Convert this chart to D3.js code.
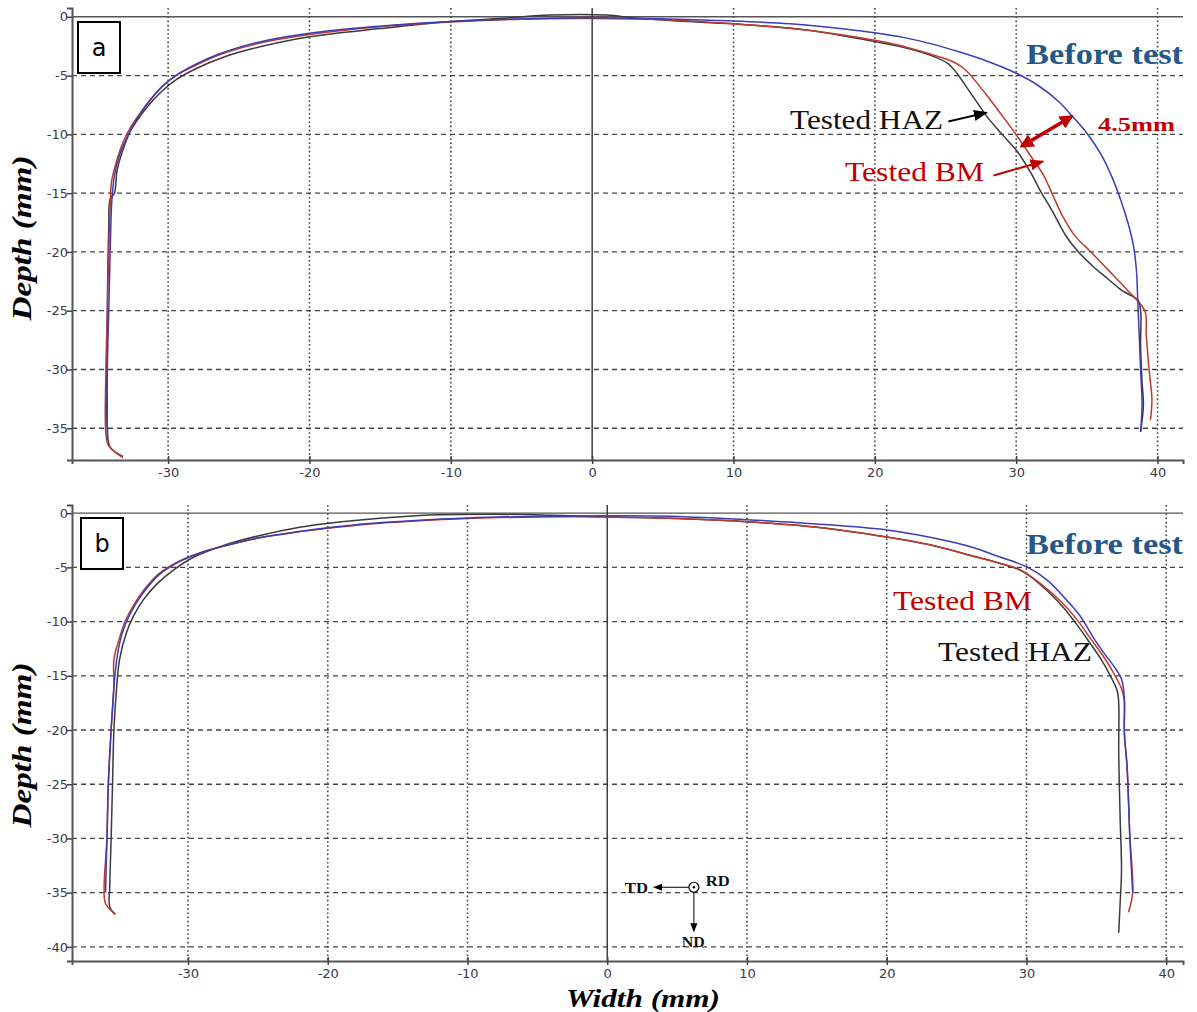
<!DOCTYPE html>
<html><head><meta charset="utf-8">
<script src="https://cdn.jsdelivr.net/npm/d3@7"></script>
<style>body{margin:0;background:#fff}svg{display:block}</style>
</head><body>
<svg id="c" width="1197" height="1012"></svg>
<script>
// ---------- data ----------
const xTicks = [-30,-20,-10,0,10,20,30,40];
const yTicksA = [0,-5,-10,-15,-20,-25,-30,-35];
const yTicksB = [0,-5,-10,-15,-20,-25,-30,-35,-40];
const seriesNames = ["Before test","Tested BM","Tested HAZ"];

const beforeA = [[-34.3,-36.0],[-34.3,-30],[-34.2,-25],[-34.1,-20],[-34.0,-16],[-33.9,-14.5],[-33.8,-13.5],[-33.5,-12],[-33.0,-10.5],[-32.6,-9.5],[-32.0,-8.3],[-31.2,-7.0],[-30.3,-5.8],[-29.2,-4.8],[-28,-4.0],[-26.5,-3.2],[-25,-2.6],[-23,-2.0],[-20,-1.4],[-17,-1.0],[-14,-0.7],[-10,-0.4],[-6,-0.2],[-2,-0.1],[2,-0.1],[6,-0.2],[10,-0.35],[14,-0.6],[18,-1.05],[20,-1.35],[22,-1.75],[24,-2.3],[26,-3.0],[28,-3.8],[30,-4.8],[31.5,-5.8],[33,-7.2],[34,-8.5],[35,-9.9],[36,-11.7],[36.8,-13.7],[37.4,-15.6],[37.9,-17.5],[38.3,-19.5],[38.5,-21.5],[38.6,-24.1],[38.7,-27],[38.8,-30],[38.9,-33],[38.8,-35.3]];
const bmA = [[-33.2,-37.5],[-34.2,-36.5],[-34.4,-35.5],[-34.4,-30],[-34.3,-25],[-34.2,-20],[-34.1,-16],[-34.0,-14],[-33.7,-12.5],[-33.2,-10.7],[-32.7,-9.5],[-32.1,-8.4],[-31.3,-7.1],[-30.4,-5.9],[-29.3,-4.9],[-28,-4.1],[-26.5,-3.3],[-25,-2.7],[-23,-2.1],[-20,-1.5],[-15,-0.85],[-10,-0.45],[-5,-0.2],[0,-0.15],[5,-0.25],[10,-0.6],[15,-1.1],[20,-2.0],[22,-2.5],[24,-3.2],[25.5,-3.8],[26.3,-4.4],[27,-5.3],[28,-6.8],[29,-8.4],[30.1,-10.2],[31,-11.8],[31.9,-13.4],[32.6,-15.2],[33.3,-17.0],[34.2,-18.7],[35.2,-19.9],[36.4,-21.4],[37.9,-23.3],[39.1,-25],[39.2,-27],[39.4,-30],[39.6,-32.5],[39.5,-34.3]];
const hazA = [[-33.2,-37.4],[-34.1,-36.6],[-34.3,-35],[-34.3,-25],[-34.2,-18],[-34.1,-15.5],[-33.8,-15],[-33.6,-13],[-33.1,-11],[-32.7,-9.8],[-32.3,-9.0],[-31.5,-7.7],[-30.5,-6.4],[-29.5,-5.4],[-28,-4.4],[-26,-3.4],[-24,-2.7],[-20,-1.7],[-15,-1.0],[-10,-0.4],[-6,-0.1],[-3,0.15],[1,0.15],[3,-0.1],[6,-0.35],[10,-0.6],[15,-1.1],[20,-2.1],[22,-2.6],[24,-3.3],[25.2,-4.0],[25.8,-4.8],[26.5,-6.0],[27.3,-7.4],[28.0,-8.6],[29.0,-10.0],[30.1,-11.5],[31.0,-13.2],[31.8,-15.0],[32.5,-16.4],[33.5,-18.6],[34.4,-20.0],[35.5,-21.3],[36.5,-22.3],[37.5,-23.3],[38.6,-24.1],[38.8,-25],[38.8,-28],[38.9,-31],[39.0,-33],[38.8,-35.3]];

const beforeB = [[-35.9,-35.0],[-35.8,-30],[-35.7,-25],[-35.5,-20],[-35.3,-16],[-35.1,-13.5],[-34.8,-11.5],[-34.4,-10],[-33.8,-8.5],[-33.0,-7.0],[-32.0,-5.6],[-30.5,-4.4],[-29,-3.6],[-27,-2.9],[-25,-2.3],[-22,-1.7],[-20,-1.35],[-17,-0.95],[-14,-0.7],[-10,-0.45],[-5,-0.3],[0,-0.25],[5,-0.3],[10,-0.6],[15,-1.0],[20,-1.55],[23,-2.2],[26,-3.1],[28,-4.0],[30.1,-5.0],[31.5,-6.2],[33.0,-8.2],[33.9,-9.6],[34.8,-11.5],[35.6,-13.0],[36.3,-14.2],[36.8,-15.3],[37.0,-17],[37.0,-20],[37.2,-23.5],[37.4,-30],[37.6,-35]];
const bmB = [[-35.2,-37.0],[-35.9,-36.0],[-36.0,-34.5],[-35.8,-30],[-35.7,-25],[-35.5,-20],[-35.3,-16],[-35.3,-13.5],[-34.9,-11.5],[-34.5,-10],[-33.9,-8.5],[-33.1,-7.0],[-32.1,-5.6],[-30.6,-4.4],[-29,-3.6],[-27,-2.9],[-25,-2.3],[-22,-1.7],[-20,-1.4],[-17,-1.0],[-14,-0.75],[-10,-0.5],[-5,-0.35],[0,-0.35],[5,-0.5],[10,-0.8],[15,-1.3],[20,-2.2],[23,-2.9],[26,-3.9],[28,-4.6],[29.6,-5.25],[31,-6.5],[32.5,-8.2],[33.6,-9.8],[34.6,-11.6],[35.5,-13.2],[36.3,-14.9],[36.8,-16.2],[37.0,-17.3],[37.0,-20.3],[37.2,-23.4],[37.4,-29.9],[37.6,-35],[37.3,-36.8]];
const hazB = [[-35.2,-37.0],[-35.6,-36.3],[-35.6,-34.5],[-35.5,-30],[-35.4,-25],[-35.3,-20],[-35.1,-16],[-34.9,-13.5],[-34.4,-11],[-33.9,-9.5],[-33.2,-8],[-32.2,-6.5],[-31,-5.2],[-29.5,-4.0],[-27.5,-3.0],[-25,-2.1],[-22,-1.3],[-19,-0.8],[-15,-0.35],[-12,-0.15],[-8,-0.1],[-4,-0.2],[0,-0.35],[5,-0.5],[10,-0.8],[15,-1.3],[20,-2.2],[23,-2.9],[26,-3.9],[29.6,-5.3],[31,-6.6],[32.5,-8.5],[33.5,-10.1],[34.5,-11.9],[35.3,-13.4],[36.0,-15.0],[36.5,-16.4],[36.6,-17.5],[36.6,-22],[36.7,-28],[36.8,-33],[36.7,-36],[36.6,-38.7]];

// ---------- drawing ----------
const svg = d3.select("#c");
const colors = {"Before test":"#3c3cb4","Tested BM":"#c0392f","Tested HAZ":"#3a3a3a"};
const serif = "'Liberation Serif', 'DejaVu Serif', serif";

svg.append("defs").html(`
<marker id="ahK" viewBox="0 0 10 10" refX="9" refY="5" markerWidth="7" markerHeight="7" orient="auto-start-reverse"><path d="M0,1 L10,5 L0,9 z" fill="#000"/></marker>
<marker id="ahR" viewBox="0 0 10 10" refX="9" refY="5" markerWidth="7" markerHeight="7" orient="auto-start-reverse"><path d="M0,1 L10,5 L0,9 z" fill="#c00000"/></marker>
<marker id="ahR2" viewBox="0 0 10 10" refX="8" refY="5" markerWidth="4" markerHeight="4" orient="auto-start-reverse"><path d="M0,0 L10,5 L0,10 z" fill="#c00000"/></marker>
<marker id="ahS" viewBox="0 0 10 10" refX="9" refY="5" markerWidth="9" markerHeight="9" orient="auto-start-reverse" markerUnits="userSpaceOnUse"><path d="M0,1 L10,5 L0,9 z" fill="#000"/></marker>
`);

function panel(cfg){
  const x = d3.scaleLinear().domain(cfg.xd).range([72,1183]);
  const y = d3.scaleLinear().domain(cfg.yd).range([cfg.bottom, cfg.top]);
  const g = svg.append("g");
  g.selectAll(".hg").data(cfg.yTicks.filter(d=>d!==0)).join("line")
    .attr("x1",72).attr("x2",1183).attr("y1",d=>y(d)).attr("y2",d=>y(d))
    .attr("stroke","#444").attr("stroke-width",1.3).attr("stroke-dasharray","5,4");
  g.selectAll(".vg").data(xTicks.filter(d=>d!==0)).join("line")
    .attr("x1",d=>x(d)).attr("x2",d=>x(d)).attr("y1",cfg.top).attr("y2",cfg.bottom)
    .attr("stroke","#444").attr("stroke-width",1.6).attr("stroke-dasharray","1.6,2.6");
  g.append("line").attr("x1",72).attr("x2",1183).attr("y1",y(0)).attr("y2",y(0)).attr("stroke","#555").attr("stroke-width",1.4);
  g.append("line").attr("x1",x(0)).attr("x2",x(0)).attr("y1",cfg.top).attr("y2",cfg.bottom).attr("stroke","#333").attr("stroke-width",1.4);
  const fmt = d => String(d);
  const ya = d3.axisLeft(y).tickValues(cfg.yTicks).tickSize(5).tickFormat(fmt);
  const yg = g.append("g").attr("transform","translate(72,0)").call(ya);
  const xa = d3.axisBottom(x).tickValues(xTicks).tickSize(4).tickFormat(fmt);
  const xg = g.append("g").attr("transform",`translate(0,${cfg.bottom})`).call(xa);
  [yg,xg].forEach(a=>{
    a.select(".domain").attr("stroke","#555").attr("stroke-width",2);
    a.selectAll(".tick line").attr("stroke","#444").attr("stroke-width",1.5);
    a.selectAll("text").attr("fill","#3a3a4a").style("font-family","'DejaVu Sans', sans-serif").style("font-size","13px");
  });
  xg.selectAll(".tick line").attr("y1",-4).attr("y2",4);
  xg.selectAll("text").attr("dy","0.95em").attr("y",5);
  yg.selectAll("text").attr("x",-4);
  const line = d3.line().x(d=>x(d[0])).y(d=>y(d[1])).curve(d3.curveCatmullRom.alpha(0.5));
  cfg.series.forEach(s=>{
    g.append("path").datum(s.data).attr("d",line).attr("fill","none")
      .attr("stroke",colors[s.name]).attr("stroke-width",1.5);
  });
  g.append("text").attr("transform",`translate(31,${cfg.ymid}) rotate(-90)`)
    .attr("text-anchor","middle").style("font-family",serif).style("font-weight","bold")
    .style("font-style","italic").style("font-size","28px")
    .attr("textLength",165).attr("lengthAdjust","spacingAndGlyphs").text("Depth (mm)");
  g.append("rect").attr("x",cfg.box[0]).attr("y",cfg.box[1]).attr("width",42).attr("height",51)
    .attr("fill","#fff").attr("stroke","#000").attr("stroke-width",2);
  g.append("text").attr("x",cfg.box[0]+21).attr("y",cfg.box[1]+34).attr("text-anchor","middle")
    .style("font-family","'DejaVu Sans', sans-serif").style("font-size","24px").text(cfg.letter);
  return {x,y,g};
}

const A = panel({xd:[-36.8,41.8], yd:[-37.7,0.75], top:8, bottom:460, ymid:238, yTicks:yTicksA, letter:"a", box:[78,22],
  series:[{name:"Tested HAZ",data:hazA},{name:"Tested BM",data:bmA},{name:"Before test",data:beforeA}]});
const B = panel({xd:[-38.3,41.2], yd:[-41.3,0.75], top:505, bottom:961, ymid:745, yTicks:yTicksB, letter:"b", box:[81,518],
  series:[{name:"Tested HAZ",data:hazB},{name:"Tested BM",data:bmB},{name:"Before test",data:beforeB}]});

function label(g, px, py, txt, color, size, weight, len){
  const t = g.append("text").attr("x",px).attr("y",py).attr("fill",color)
    .style("font-family",serif).style("font-size",size+"px").style("font-weight",weight).text(txt);
  if(len) t.attr("textLength",len).attr("lengthAdjust","spacingAndGlyphs");
  return t;
}
label(A.g, 1026, 64, seriesNames[0], "#25588a", 29, "bold", 157);
label(A.g, 790, 129, seriesNames[2], "#111", 28, "normal", 153);
label(A.g, 845, 181, seriesNames[1], "#c00000", 28, "normal", 139);
label(A.g, 1098, 131, "4.5mm", "#c00000", 19, "bold", 77);
A.g.append("line").attr("x1",A.x(25.2)).attr("y1",A.y(-8.9)).attr("x2",A.x(27.9)).attr("y2",A.y(-8.15))
  .attr("stroke","#000").attr("stroke-width",2).attr("marker-end","url(#ahK)");
A.g.append("line").attr("x1",A.x(28.4)).attr("y1",A.y(-13.5)).attr("x2",A.x(31.9)).attr("y2",A.y(-12.3))
  .attr("stroke","#c00000").attr("stroke-width",2).attr("marker-end","url(#ahR)");
A.g.append("line").attr("x1",A.x(30.4)).attr("y1",A.y(-11.0)).attr("x2",A.x(33.9)).attr("y2",A.y(-8.5))
  .attr("stroke","#c00000").attr("stroke-width",3.5).attr("marker-start","url(#ahR2)").attr("marker-end","url(#ahR2)");
label(B.g, 1026, 554, seriesNames[0], "#25588a", 29, "bold", 157);
label(B.g, 893, 610, seriesNames[1], "#c00000", 28, "normal", 139);
label(B.g, 938, 661, seriesNames[2], "#111", 28, "normal", 154);
const cx = B.x(6.2), cy = B.y(-34.5);
B.g.append("circle").attr("cx",cx).attr("cy",cy).attr("r",5).attr("fill","#fff").attr("stroke","#000").attr("stroke-width",1.2);
B.g.append("circle").attr("cx",cx).attr("cy",cy).attr("r",1.2).attr("fill","#000");
B.g.append("line").attr("x1",cx-5).attr("y1",cy).attr("x2",cx-40).attr("y2",cy).attr("stroke","#000").attr("stroke-width",1).attr("marker-end","url(#ahS)");
B.g.append("line").attr("x1",cx).attr("y1",cy+5).attr("x2",cx).attr("y2",cy+44).attr("stroke","#000").attr("stroke-width",1).attr("marker-end","url(#ahS)");
label(B.g, cx-69, cy+6, "TD", "#111", 15, "bold", 23);
label(B.g, cx+12, cy-1, "RD", "#111", 15, "bold", 24);
label(B.g, cx-12, cy+60, "ND", "#111", 15, "bold", 23);
svg.append("text").attr("x",643).attr("y",1007).attr("text-anchor","middle")
  .style("font-family",serif).style("font-weight","bold").style("font-style","italic").style("font-size","26px")
  .attr("textLength",154).attr("lengthAdjust","spacingAndGlyphs").text("Width (mm)");
</script>
</body></html>
